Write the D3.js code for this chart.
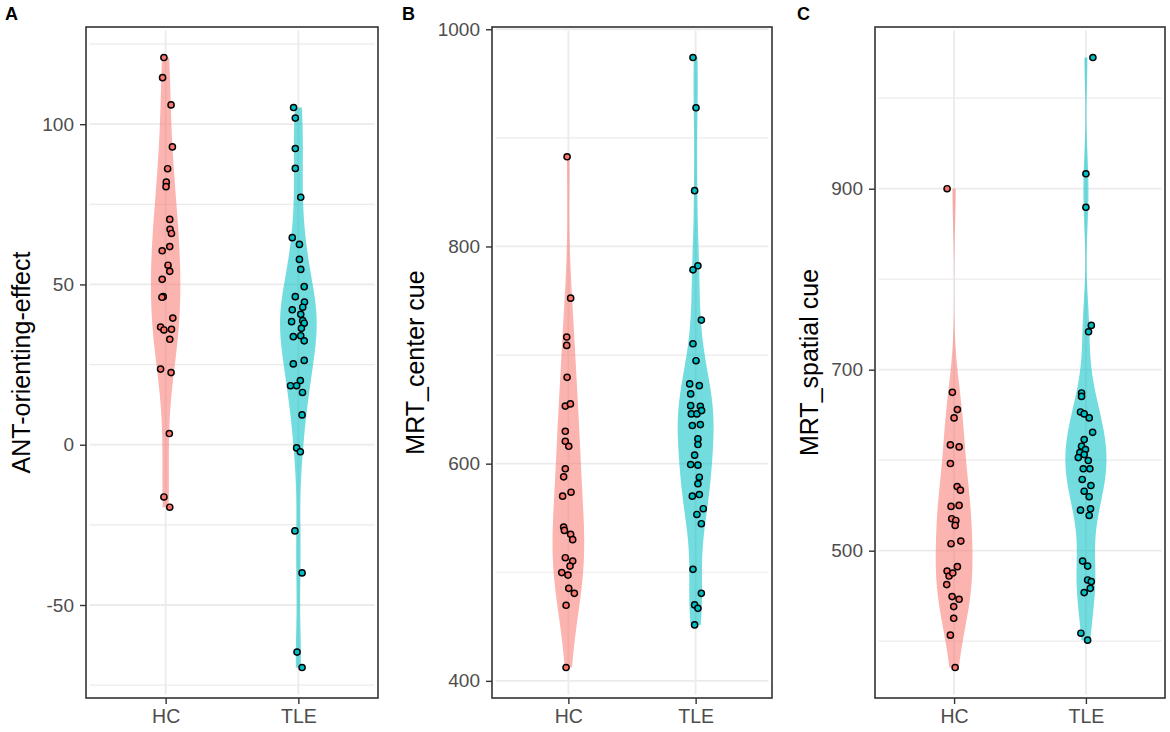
<!DOCTYPE html>
<html><head><meta charset="utf-8">
<script src="https://cdn.jsdelivr.net/npm/d3@7"></script>
<style>
body{margin:0;background:#fff}
svg{display:block}
text{font-family:"Liberation Sans", Arial, sans-serif}
</style>
</head><body>
<svg id="chart" width="1170" height="732"></svg>
<script>
// ---------------- data ----------------
const groups = ["HC", "TLE"];
const panelLetters = ["A", "B", "C"];
const yTitles = ["ANT-orienting-effect", "MRT_center cue", "MRT_spatial cue"];

const yTicksA = [-50, 0, 50, 100];
const yTicksB = [400, 600, 800, 1000];
const yTicksC = [500, 700, 900];
const yMinorA = [-75, -25, 25, 75, 125];
const yMinorB = [500, 700, 900];
const yMinorC = [400, 600, 800, 1000];

// Panel A: ANT orienting effect
const antHC = [120.8,114.5,106,92.9,86.1,81.9,80.5,70.3,67.2,65.9,61.8,60.5,56,54.1,51.6,46.2,46,39.5,36.7,35.8,36,32.9,23.6,22.5,3.5,-16.3,-19.5];
const antHCJitter = [-0.013,-0.023,0.041,0.051,0.015,0.005,0.003,0.031,0.033,0.044,0.031,-0.026,0.018,0.031,-0.026,-0.018,-0.028,0.054,-0.038,-0.013,0.044,0.031,-0.038,0.041,0.028,-0.013,0.031];
const antTLE = [105.2,101.9,92.4,86.2,77.2,64.6,62.5,57.8,54.7,49.3,46.2,44.5,42.1,42.9,40.7,38.4,38.7,37.9,36.3,33.7,34,32.4,25.2,26.3,20,18.4,18.4,16.3,9.3,-1,-2.2,-26.9,-40,-64.7,-69.5];
const antTLEJitter = [-0.036,-0.023,-0.023,-0.023,0.018,-0.046,0.008,0.008,0.018,0.044,-0.023,0.046,-0.046,0.033,0.018,-0.051,0.033,0.044,0.023,-0.038,0.018,0.044,-0.038,0.044,0.015,-0.059,-0.013,0.031,0.028,-0.013,0.015,-0.026,0.028,-0.010,0.028];

// Panel B: MRT center cue
const centerHC = [882.6,752.4,716.6,708.9,679.5,653,655,629.8,620.6,616,595.3,587.9,573.7,570.1,541.6,538.5,534.9,530,513.4,510.3,505.7,499.7,497.4,485.2,480.6,469.6,412.3];
const centerHCJitter = [-0.010,0.018,-0.013,-0.013,-0.010,-0.024,0.016,-0.024,-0.024,0.003,-0.024,-0.037,0.021,-0.045,-0.037,-0.031,0.018,0.034,-0.024,0.034,0.013,-0.052,-0.003,0.003,0.047,-0.018,-0.018];
const centerTLE = [974,927.7,851.4,778.5,782.2,732.2,710.4,694.8,673.4,671.8,664.2,653.4,652.8,645.8,645.8,648.9,635.1,636,622.8,617.6,607.8,599.2,598.6,587.5,581.5,570.1,571.6,558.5,553.2,544.7,502.7,480.6,469.9,466.8,451.5];
const centerTLEJitter = [-0.021,0.003,-0.008,-0.021,0.018,0.045,-0.021,0.003,-0.047,0.029,-0.039,-0.039,0.037,-0.034,0.010,0.047,-0.026,0.037,0.018,0.018,-0.008,-0.039,0.018,0.029,0.018,-0.026,0.029,0.060,0.010,0.045,-0.021,0.045,-0.008,0.018,-0.008];

// Panel C: MRT spatial cue
const spatialHC = [900,675,655.9,646.7,616.9,614.7,596.3,570.9,566.9,548.9,550,535.3,533.4,527.9,507.7,510.6,477.5,482.3,472,475.3,462.5,449.3,446.3,438.2,425.3,406.6,370.9];
const spatialHCJitter = [-0.053,-0.013,0.025,0,-0.028,0.038,-0.028,0.023,0.048,-0.023,0.038,-0.018,0.013,0.008,-0.023,0.051,-0.053,0.025,-0.038,-0.010,-0.056,-0.015,0.038,-0.003,-0.003,-0.028,0.008];
const spatialTLE = [1045,916.5,879.5,748.9,741.9,674.3,670.5,653.3,651.1,646.7,630.8,622.8,615.4,611.7,608.4,606.2,602.9,599.6,590.5,590.5,578.7,572,565.7,559.6,544.8,546.3,538.9,488.5,483,467.6,465.8,458.4,453.7,408.8,401.1];
const spatialTLEJitter = [0.053,0,0,0.041,0.020,-0.033,-0.033,-0.041,-0.013,0.025,0.051,-0.013,-0.033,-0.003,-0.046,-0.013,-0.058,0.018,-0.020,0.030,-0.028,0.038,-0.013,0.025,-0.041,0.035,0.025,-0.025,0.013,0.013,0.041,0.033,-0.013,-0.038,0.013];

// ---------------- layout / style ----------------
const fills = {HC: "#F8766D", TLE: "#00BFC4"};
const panels = [
  {letter: panelLetters[0], title: yTitles[0], ticks: yTicksA, minor: yMinorA,
   values: {HC: antHC, TLE: antTLE}, jitter: {HC: antHCJitter, TLE: antTLEJitter},
   left: 86, right: 378, titleX: 30, letterX: 5, halfW: 0.138},
  {letter: panelLetters[1], title: yTitles[1], ticks: yTicksB, minor: yMinorB,
   values: {HC: centerHC, TLE: centerTLE}, jitter: {HC: centerHCJitter, TLE: centerTLEJitter},
   left: 492, right: 772, titleX: 424, letterX: 402, halfW: 0.141},
  {letter: panelLetters[2], title: yTitles[2], ticks: yTicksC, minor: yMinorC,
   values: {HC: spatialHC, TLE: spatialTLE}, jitter: {HC: spatialHCJitter, TLE: spatialTLEJitter},
   left: 875, right: 1165, titleX: 818, letterX: 797, halfW: 0.156}
];
const plotTop = 27, plotBottom = 698;

const svg = d3.select("#chart");

function nrd0(x) {
  const s = x.slice().sort(d3.ascending);
  const sd = d3.deviation(s);
  const iqr = d3.quantile(s, 0.75) - d3.quantile(s, 0.25);
  let lo = Math.min(sd, iqr / 1.34);
  if (!(lo > 0)) lo = sd || Math.abs(s[0]) || 1;
  return 0.9 * lo * Math.pow(s.length, -0.2);
}
function kde(x) {
  const bw = nrd0(x), n = x.length;
  const mn = d3.min(x), mx = d3.max(x);
  const pts = [];
  for (let i = 0; i < 512; i++) {
    const v = mn + (mx - mn) * i / 511;
    let s = 0;
    for (const xi of x) { const z = (v - xi) / bw; s += Math.exp(-0.5 * z * z); }
    pts.push({v, d: s / (n * bw * Math.sqrt(2 * Math.PI))});
  }
  return pts;
}

panels.forEach(p => {
  const g = svg.append("g");
  const all = groups.flatMap(k => p.values[k]);
  const [mn, mx] = d3.extent(all);
  const pad = (mx - mn) * 0.05;
  const y = d3.scaleLinear().domain([mn - pad, mx + pad]).range([plotBottom, plotTop]);
  const x = d3.scalePoint().domain(groups).range([p.left, p.right]).padding(0.6);
  const step = x.step();
  const inset = 3.5;

  // grid
  const grid = g.append("g");
  grid.selectAll(".minor").data(p.minor).join("line")
    .attr("x1", p.left + inset).attr("x2", p.right - inset)
    .attr("y1", d => y(d)).attr("y2", d => y(d))
    .attr("stroke", "#EBEBEB").attr("stroke-width", 1.2);
  grid.selectAll(".major").data(p.ticks).join("line")
    .attr("x1", p.left + inset).attr("x2", p.right - inset)
    .attr("y1", d => y(d)).attr("y2", d => y(d))
    .attr("stroke", "#EBEBEB").attr("stroke-width", 1.8);
  grid.selectAll(".vmajor").data(groups).join("line")
    .attr("x1", d => x(d)).attr("x2", d => x(d))
    .attr("y1", plotTop + inset).attr("y2", plotBottom - inset)
    .attr("stroke", "#EBEBEB").attr("stroke-width", 1.8);

  // violins
  const dens = {};
  groups.forEach(k => dens[k] = kde(p.values[k]));
  const maxD = d3.max(groups, k => d3.max(dens[k], d => d.d));
  groups.forEach(k => {
    const cx = x(k);
    const area = d3.area()
      .y(d => y(d.v))
      .x0(d => cx - d.d / maxD * p.halfW * step)
      .x1(d => cx + d.d / maxD * p.halfW * step);
    g.append("path").datum(dens[k]).attr("d", area)
      .attr("fill", fills[k]).attr("fill-opacity", 0.55).attr("stroke", "none");
  });

  // points
  groups.forEach(k => {
    const pts = p.values[k].map((v, i) => ({v, j: p.jitter[k][i]}));
    g.append("g").selectAll("circle").data(pts).join("circle")
      .attr("cx", d => x(k) + d.j * step)
      .attr("cy", d => y(d.v))
      .attr("r", 3.1)
      .attr("fill", fills[k]).attr("stroke", "#000").attr("stroke-width", 1.45);
  });

  // border
  g.append("rect").attr("x", p.left).attr("y", plotTop)
    .attr("width", p.right - p.left).attr("height", plotBottom - plotTop)
    .attr("fill", "none").attr("stroke", "#333333").attr("stroke-width", 1.6);

  // y axis
  const ya = g.append("g").attr("transform", `translate(${p.left},0)`)
    .call(d3.axisLeft(y).tickValues(p.ticks).tickSize(6).tickPadding(6).tickFormat(d => String(d)));
  ya.select(".domain").remove();
  ya.selectAll(".tick line").attr("stroke", "#333333").attr("stroke-width", 1.4);
  ya.selectAll(".tick text").attr("fill", "#4D4D4D").style("font-size", "19px")
    .style("font-family", '"Liberation Sans", Arial, sans-serif');

  // x axis
  const xa = g.append("g").attr("transform", `translate(0,${plotBottom})`)
    .call(d3.axisBottom(x).tickSize(6).tickPadding(5));
  xa.select(".domain").remove();
  xa.selectAll(".tick line").attr("stroke", "#333333").attr("stroke-width", 1.4);
  xa.selectAll(".tick text").attr("fill", "#4D4D4D").style("font-size", "19.5px")
    .style("font-family", '"Liberation Sans", Arial, sans-serif');

  // y title
  g.append("text")
    .attr("transform", `translate(${p.titleX},${(plotTop + plotBottom) / 2}) rotate(-90)`)
    .attr("text-anchor", "middle")
    .style("font-size", "25px").attr("fill", "#000")
    .text(p.title);

  // panel letter
  g.append("text").attr("x", p.letterX).attr("y", 20)
    .style("font-size", "18px").style("font-weight", "bold").attr("fill", "#000")
    .text(p.letter);
});
</script>
</body></html>
